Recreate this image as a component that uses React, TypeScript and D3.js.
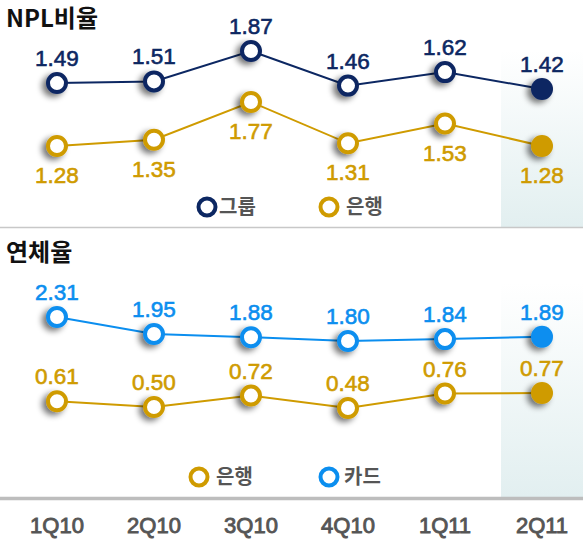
import React from "react";
import * as d3 from "d3";

const categories = ["1Q10", "2Q10", "3Q10", "4Q10", "1Q11", "2Q11"];
const nplGroup = [1.49, 1.51, 1.87, 1.46, 1.62, 1.42];
const nplBank = [1.28, 1.35, 1.77, 1.31, 1.53, 1.28];
const delinqCard = [2.31, 1.95, 1.88, 1.8, 1.84, 1.89];
const delinqBank = [0.61, 0.5, 0.72, 0.48, 0.76, 0.77];

const NAVY = "#0c2762";
const GOLD = "#cf9b00";
const BLUE = "#0b8eef";
const GRAY = "#555555";
const NUM_FONT = "'Liberation Sans', Arial, Helvetica, sans-serif";
const KR_FONT = "'Noto Sans CJK KR', 'Noto Sans', sans-serif";

const W = 583;
const H = 542;

const x = d3.scalePoint<string>().domain(categories).range([57, 542]);

type SeriesProps = {
  values: number[];
  y: d3.ScaleLinear<number, number>;
  color: string;
  labelPos: "above" | "below";
};

function Series({ values, y, color, labelPos }: SeriesProps) {
  const line = d3
    .line<number>()
    .x((_, i) => x(categories[i]) as number)
    .y((d) => y(d));
  const last = values.length - 1;
  return (
    <g>
      <path d={line(values) || ""} fill="none" stroke={color} strokeWidth={2} />
      {values.map((v, i) => {
        const cx = x(categories[i]) as number;
        const cy = y(v);
        const isLast = i === last;
        return (
          <g key={i}>
            {isLast ? (
              <circle cx={cx} cy={cy} r={11} fill={color} filter="url(#shadow)" />
            ) : (
              <circle cx={cx} cy={cy} r={9} fill="#fff" stroke={color} strokeWidth={4} filter="url(#shadow)" />
            )}
            <text
              x={cx}
              y={labelPos === "above" ? cy - 17 : cy + 37}
              textAnchor="middle"
              fontFamily={NUM_FONT}
              fontSize={22.5}
              fill={color}
              stroke={color}
              strokeWidth={0.6}
            >
              {d3.format(".2f")(v)}
            </text>
          </g>
        );
      })}
    </g>
  );
}

function Legend({ cx, cy, color, label, tx }: { cx: number; cy: number; color: string; label: string; tx: number }) {
  return (
    <g>
      <circle cx={cx} cy={cy} r={8.5} fill="#fff" stroke={color} strokeWidth={4} />
      <text x={tx} y={cy + 7} fontFamily={KR_FONT} fontWeight="bold" fontSize={20} fill={GRAY}>
        {label}
      </text>
    </g>
  );
}

export default function App() {
  const yGroup = d3.scaleLinear().domain([1.42, 1.87]).range([89, 51]);
  const yBankTop = d3.scaleLinear().domain([1.28, 1.77]).range([146, 102]);
  const yCard = d3.scaleLinear().domain([1.8, 2.31]).range([341, 317]);
  const yBankBot = d3.scaleLinear().domain([0.48, 0.77]).range([408, 393]);

  return (
    <svg
      width={W}
      height={H}
      style={{ position: "absolute", left: 0, top: 0, background: "#fff" }}
    >
      <defs>
        <linearGradient id="shade" x1="0" y1="0" x2="0" y2="1">
          <stop offset="0" stopColor="#ffffff" />
          <stop offset="1" stopColor="#e2eff0" />
        </linearGradient>
        <filter id="shadow" x="-80%" y="-80%" width="260%" height="260%">
          <feGaussianBlur in="SourceAlpha" stdDeviation="3" />
          <feOffset dx="-4" dy="3" result="b" />
          <feComponentTransfer>
            <feFuncA type="linear" slope="0.55" />
          </feComponentTransfer>
          <feMerge>
            <feMergeNode />
            <feMergeNode in="SourceGraphic" />
          </feMerge>
        </filter>
      </defs>
      <rect x={501} y={50} width={82} height={177} fill="url(#shade)" />
      <rect x={501} y={283} width={82} height={214} fill="url(#shade)" />
      <line x1={0} x2={W} y1={227.5} y2={227.5} stroke="#c8c8c8" strokeWidth={1.5} />
      <line x1={0} x2={W} y1={498.5} y2={498.5} stroke="#bdbdbd" strokeWidth={3.5} />

      <text x={6} y={27} fontFamily={KR_FONT} fontWeight="bold" fontSize={24} fill="#111">
        NPL비율
      </text>
      <text x={6} y={261} fontFamily={KR_FONT} fontWeight="bold" fontSize={24} fill="#111">
        연체율
      </text>

      <Series values={nplGroup} y={yGroup} color={NAVY} labelPos="above" />
      <Series values={nplBank} y={yBankTop} color={GOLD} labelPos="below" />
      <Series values={delinqCard} y={yCard} color={BLUE} labelPos="above" />
      <Series values={delinqBank} y={yBankBot} color={GOLD} labelPos="above" />

      <Legend cx={207} cy={207} color={NAVY} label="그룹" tx={219} />
      <Legend cx={329} cy={207} color={GOLD} label="은행" tx={346} />
      <Legend cx={199} cy={477} color={GOLD} label="은행" tx={216} />
      <Legend cx={329} cy={477} color={BLUE} label="카드" tx={344} />

      {categories.map((c) => (
        <text
          key={c}
          x={x(c) as number}
          y={533}
          textAnchor="middle"
          fontFamily={NUM_FONT}
          fontSize={22}
          fill={GRAY}
          stroke={GRAY}
          strokeWidth={0.9}
        >
          {c}
        </text>
      ))}
    </svg>
  );
}
